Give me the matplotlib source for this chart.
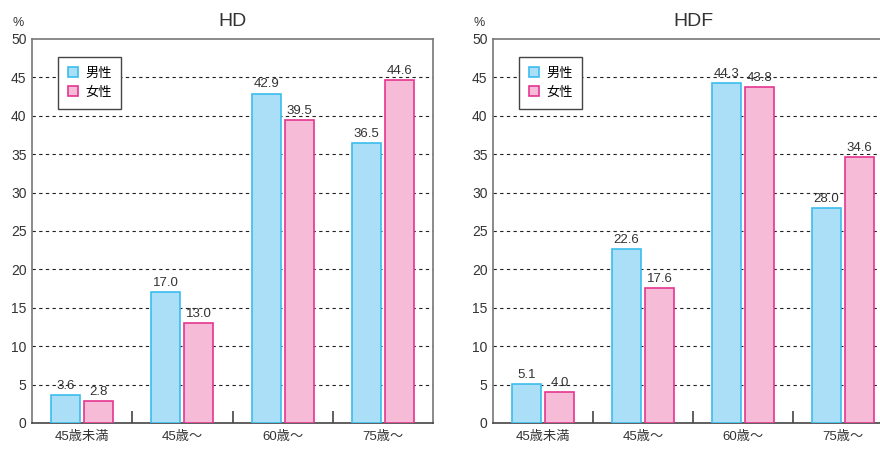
import matplotlib
matplotlib.use("Agg")
import matplotlib.pyplot as plt
import numpy as np
from matplotlib.patches import Patch

plt.rcParams['font.family'] = ['Liberation Sans', 'Noto Sans CJK JP', 'DejaVu Sans']

categories = ['45歳未満', '45歳〜', '60歳〜', '75歳〜']
hd_male = [3.6, 17.0, 42.9, 36.5]
hd_female = [2.8, 13.0, 39.5, 44.6]
hdf_male = [5.1, 22.6, 44.3, 28.0]
hdf_female = [4.0, 17.6, 43.8, 34.6]
legend_labels = ['男性', '女性']
titles = ['HD', 'HDF']

blue_fill = '#aadff7'
blue_edge = '#3cbdee'
pink_fill = '#f6bcd7'
pink_edge = '#e5358f'
text_c = '#333333'

fig = plt.figure(figsize=(8.8, 4.5), dpi=100)
ax1 = fig.add_axes([32/880, 27/450, 401/880, 384/450])
ax2 = fig.add_axes([493/880, 27/450, 400/880, 384/450])

for ax, title, m, f in [(ax1, titles[0], hd_male, hd_female),
                        (ax2, titles[1], hdf_male, hdf_female)]:
    ax_w_px = ax.get_position().width * 880
    x = np.arange(len(categories))
    w = 0.29
    off = 0.165
    ax.bar(x - off, m, w, color=blue_fill, edgecolor=blue_edge, linewidth=1.2, zorder=3)
    ax.bar(x + off, f, w, color=pink_fill, edgecolor=pink_edge, linewidth=1.2, zorder=3)
    for xi, v in zip(x - off, m):
        ax.text(xi, v + 0.4, f'{v:.1f}', ha='center', va='bottom', fontsize=9.5, color=text_c, zorder=4)
    for xi, v in zip(x + off, f):
        ax.text(xi, v + 0.4, f'{v:.1f}', ha='center', va='bottom', fontsize=9.5, color=text_c, zorder=4)
    ax.set_xlim(-0.5, len(categories) - 0.5)
    ax.set_ylim(0, 50)
    ax.set_yticks(np.arange(0, 51, 5))
    ax.tick_params(axis='y', length=0, labelsize=10, colors=text_c, pad=4)
    ax.set_xticks(x)
    ax.set_xticklabels(categories, fontsize=9.5, color=text_c)
    ax.tick_params(axis='x', length=0, pad=6)
    ax.set_xticks(np.arange(0.5, len(categories) - 0.5, 1), minor=True)
    ax.tick_params(axis='x', which='minor', direction='in', length=9, width=1.2, color='#444444')
    for yv in range(5, 50, 5):
        ax.axhline(yv, color='#222222', linestyle=(0, (3, 3)), linewidth=0.8, zorder=1)
    for s in ax.spines.values():
        s.set_color('#777777')
        s.set_linewidth(1.2)
    ax.spines['bottom'].set_color('#444444')
    ax.set_title(title, fontsize=14, color=text_c, pad=9)
    ax.text(-13.5 / ax_w_px, 1.025, '%', transform=ax.transAxes,
            fontsize=9, color=text_c, ha='center', va='bottom')
    handles = [Patch(facecolor=blue_fill, edgecolor=blue_edge, linewidth=1.2),
               Patch(facecolor=pink_fill, edgecolor=pink_edge, linewidth=1.2)]
    leg = ax.legend(handles, legend_labels, loc='upper left', bbox_to_anchor=(26 / ax_w_px, 1 - 18 / 384),
                    borderaxespad=0, frameon=True, fancybox=False, fontsize=9.5,
                    handlelength=0.8, handleheight=0.8,
                    handletextpad=0.5, borderpad=0.75, labelspacing=0.5, framealpha=1)
    leg.get_frame().set_edgecolor('#444444')
    leg.get_frame().set_linewidth(1.0)
    leg.set_zorder(5)

fig.savefig('out.png', dpi=100)
